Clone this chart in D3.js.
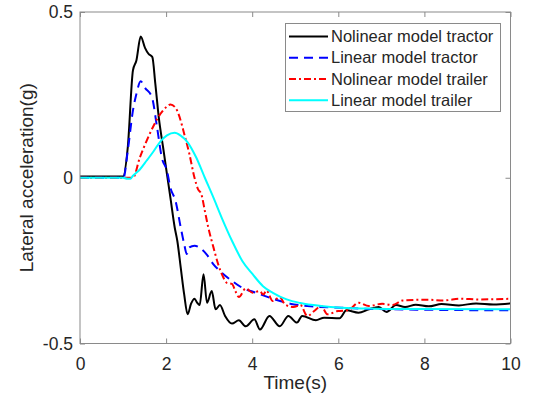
<!DOCTYPE html>
<head>
  <meta charset="utf-8">
  <script src="https://d3js.org/d3.v7.min.js"></script>
  <style>
    body { margin:0; background:#fff; }
    text { font-family: "Liberation Sans", Arial, sans-serif; fill:#262626; }
    .axis path { display:none; }
    .axis line { stroke:#8a8a8a; }
  </style>
</head>
<body>
<div id="chart"></div>
<script>
  var width = 536;
  var height = 398;
  var margin = {top: 12, right: 25, bottom: 55, left: 80};

  // time (s) and lateral acceleration (g)
  var tractorNlT = [0, 1.0, 1.11, 1.23, 1.31, 1.41, 1.51, 1.59, 1.68, 1.75, 1.83, 1.93, 2.02, 2.10, 2.20, 2.26, 2.34, 2.42, 2.50, 2.58, 2.66, 2.72, 2.78, 2.87, 2.95, 3.06, 3.15, 3.25, 3.37, 3.53, 3.69, 3.85, 4.05, 4.18, 4.40, 4.64, 4.84, 5.04, 5.16, 5.48, 5.67, 6.03, 6.19, 6.47, 6.71, 6.94, 7.12, 7.34, 7.55, 7.8, 8.1, 8.4, 8.8, 9.2, 9.6, 10];
  var tractorNlA = [0.004, 0.004, 0.092, 0.324, 0.354, 0.426, 0.392, 0.374, 0.364, 0.283, 0.182, 0.092, 0.011, -0.06, -0.15, -0.19, -0.271, -0.352, -0.412, -0.38, -0.365, -0.377, -0.384, -0.291, -0.377, -0.342, -0.397, -0.384, -0.417, -0.44, -0.43, -0.448, -0.427, -0.458, -0.417, -0.448, -0.417, -0.437, -0.417, -0.43, -0.422, -0.424, -0.40, -0.407, -0.397, -0.39, -0.405, -0.384, -0.39, -0.383, -0.388, -0.381, -0.385, -0.379, -0.382, -0.379];

  var tractorLinT = [0, 1.01, 1.11, 1.23, 1.31, 1.41, 1.51, 1.67, 1.79, 1.90, 2.02, 2.10, 2.22, 2.34, 2.42, 2.48, 2.54, 2.66, 2.82, 2.94, 3.10, 3.29, 3.53, 3.77, 4.09, 4.48, 4.88, 5.28, 6.07, 6.87, 10];
  var tractorLinA = [0, 0, 0.082, 0.203, 0.253, 0.291, 0.271, 0.243, 0.152, 0.061, 0.021, -0.03, -0.07, -0.15, -0.20, -0.23, -0.21, -0.205, -0.215, -0.231, -0.261, -0.286, -0.311, -0.332, -0.347, -0.365, -0.38, -0.387, -0.392, -0.396, -0.40];

  var trailerNlT = [0, 1.23, 1.39, 1.55, 1.71, 1.87, 2.02, 2.10, 2.22, 2.30, 2.42, 2.54, 2.66, 2.74, 2.82, 2.90, 2.98, 3.10, 3.21, 3.33, 3.41, 3.53, 3.61, 3.69, 3.85, 4.01, 4.17, 4.26, 4.33, 4.48, 4.64, 4.76, 4.96, 5.12, 5.28, 5.44, 5.60, 5.75, 5.99, 6.23, 6.47, 6.71, 7.02, 7.26, 7.50, 8.06, 8.45, 8.85, 9.25, 10];
  var trailerNlA = [0, 0, 0.061, 0.112, 0.157, 0.193, 0.215, 0.221, 0.211, 0.188, 0.133, 0.072, 0.0, -0.034, -0.05, -0.10, -0.15, -0.21, -0.261, -0.301, -0.317, -0.32, -0.342, -0.36, -0.334, -0.347, -0.342, -0.352, -0.34, -0.372, -0.36, -0.382, -0.39, -0.384, -0.417, -0.402, -0.387, -0.412, -0.402, -0.40, -0.377, -0.387, -0.38, -0.384, -0.37, -0.368, -0.37, -0.365, -0.367, -0.365];

  var trailerLinT = [0, 1.0, 1.1, 1.17, 1.23, 1.39, 1.55, 1.71, 1.87, 2.02, 2.20, 2.34, 2.50, 2.70, 2.90, 3.10, 3.29, 3.53, 3.77, 4.01, 4.25, 4.48, 4.80, 5.12, 5.60, 6.07, 6.87, 7.66, 10];
  var trailerLinA = [0, 0, -0.003, -0.003, 0.006, 0.025, 0.052, 0.08, 0.11, 0.128, 0.136, 0.127, 0.107, 0.061, 0.0, -0.06, -0.12, -0.19, -0.251, -0.291, -0.327, -0.347, -0.367, -0.378, -0.387, -0.392, -0.395, -0.396, -0.397];

  var seriesNames = ["Nolinear model tractor", "Linear model tractor", "Nolinear model trailer", "Linear model trailer"];
  var xTicks = [0, 2, 4, 6, 8, 10];
  var yTicks = [-0.5, 0, 0.5];

  var seriesT = [tractorNlT, tractorLinT, trailerNlT, trailerLinT];
  var seriesA = [tractorNlA, tractorLinA, trailerNlA, trailerLinA];
  var colors = ["#000000", "#0000ff", "#ff0000", "#00ffff"];
  var dashes = [null, "9,6", "7,3,2,3", null];

  var xScale = d3.scaleLinear().domain([0, 10]).range([margin.left, width - margin.right - 0.5]);
  var yScale = d3.scaleLinear().domain([-0.5, 0.5]).range([height - margin.bottom + 0.5, margin.top]);

  var svg = d3.select("#chart").append("svg")
    .attr("width", width)
    .attr("height", height);

  var plotW = xScale(10) - xScale(0);
  var plotH = yScale(-0.5) - yScale(0.5);

  //axes, ticks pointing inside
  svg.append("g").attr("class", "axis")
    .attr("transform", "translate(0," + yScale(-0.5) + ")")
    .call(d3.axisBottom(xScale).tickValues(xTicks).tickSize(-5).tickSizeOuter(0).tickPadding(14))
    .selectAll("text").attr("font-size", "17.5px").style("font-family", "'Liberation Sans', Arial, sans-serif");
  svg.append("g").attr("class", "axis")
    .attr("transform", "translate(0," + yScale(0.5) + ")")
    .call(d3.axisTop(xScale).tickValues(xTicks).tickSize(-5).tickSizeOuter(0).tickFormat(""));
  svg.append("g").attr("class", "axis")
    .attr("transform", "translate(" + xScale(0) + ",0)")
    .call(d3.axisLeft(yScale).tickValues(yTicks).tickSize(-5).tickSizeOuter(0).tickPadding(7).tickFormat(function(d){ return d === 0 ? "0" : d; }))
    .selectAll("text").attr("font-size", "17.5px").style("font-family", "'Liberation Sans', Arial, sans-serif");
  svg.append("g").attr("class", "axis")
    .attr("transform", "translate(" + xScale(10) + ",0)")
    .call(d3.axisRight(yScale).tickValues(yTicks).tickSize(-5).tickSizeOuter(0).tickFormat(""));

  //plot lines
  var line = d3.line()
    .x(function(d){ return xScale(d[0]); })
    .y(function(d){ return yScale(d[1]); })
    .curve(d3.curveMonotoneX);

  seriesT.forEach(function(ts, i){
    var pts = ts.map(function(t, j){ return [t, seriesA[i][j]]; });
    svg.append("path")
      .attr("d", line(pts))
      .attr("fill", "none")
      .attr("stroke", colors[i])
      .attr("stroke-width", 2)
      .attr("stroke-dasharray", dashes[i]);
  });

  //box
  svg.append("rect")
    .attr("x", xScale(0)).attr("y", yScale(0.5))
    .attr("width", plotW).attr("height", plotH)
    .attr("fill", "none").attr("stroke", "#8a8a8a").attr("stroke-width", 1);

  //axis labels
  svg.append("text")
    .attr("x", (xScale(0) + xScale(10)) / 2)
    .attr("y", 389)
    .attr("text-anchor", "middle")
    .attr("font-size", "19px")
    .text("Time(s)");
  svg.append("text")
    .attr("transform", "translate(33," + yScale(0) + ") rotate(-90)")
    .attr("text-anchor", "middle")
    .attr("font-size", "19px")
    .text("Lateral acceleration(g)");

  //legend
  var legend = svg.append("g");
  legend.append("rect")
    .attr("x", 285.5).attr("y", 23.5)
    .attr("width", 215).attr("height", 88)
    .attr("fill", "#fff").attr("stroke", "#8a8a8a");
  seriesNames.forEach(function(name, i){
    var yy = 36.4 + i * 21.3;
    legend.append("line")
      .attr("x1", 289).attr("x2", 328)
      .attr("y1", yy).attr("y2", yy)
      .attr("stroke", colors[i])
      .attr("stroke-width", 2)
      .attr("stroke-dasharray", dashes[i]);
    legend.append("text")
      .attr("x", 331)
      .attr("y", yy)
      .attr("dy", "0.35em")
      .attr("font-size", "16.5px")
      .text(name);
  });
</script>
</body>
